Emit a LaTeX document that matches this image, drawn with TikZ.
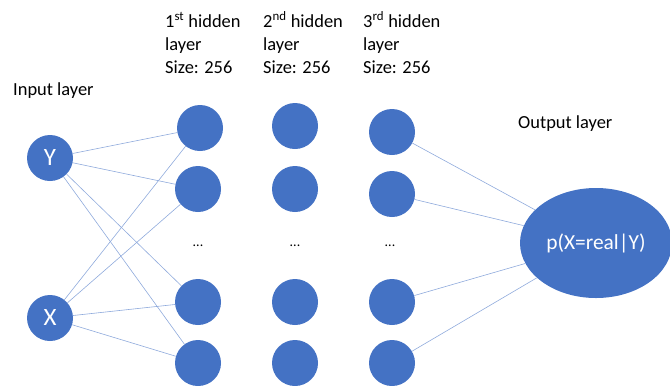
\documentclass[tikz,border=0pt]{standalone}
\usepackage{fontspec}
\setmainfont{Carlito}
\usetikzlibrary{shapes.geometric}
\definecolor{nodeblue}{HTML}{4472C4}
\definecolor{edgeblue}{HTML}{8FAADC}
\tikzset{
  neuron/.style={circle,fill=nodeblue,draw=none,minimum size=46bp,inner sep=0pt},
  inneuron/.style={neuron,text=white,font=\fontsize{25}{25}\selectfont},
  outneuron/.style={ellipse,fill=nodeblue,draw=none,minimum width=152bp,minimum height=110bp,inner sep=0pt,text=white,font=\fontsize{21.5}{21.5}\selectfont},
  lbl/.style={anchor=base west,inner sep=0pt,font=\fontsize{18.5}{18.5}\selectfont},
  dotlbl/.style={inner sep=0pt,font=\fontsize{14}{14}\selectfont},
  link/.style={draw=edgeblue,line width=0.6bp}
}
\begin{document}
\begin{tikzpicture}[x=1bp,y=-1bp]
\useasboundingbox (0,0) rectangle (670,385);
\clip (0,0) rectangle (670,385);
% labels
\node[lbl] (il) at (13,95) {Input layer};
\node[lbl] (l1a) at (165,27) {1\textsuperscript{st} hidden};
\node[lbl] (l1b) at (165,50) {layer};
\node[lbl] (l1c) at (165,73) {Size: 256};
\node[lbl] (l2a) at (263,27) {2\textsuperscript{nd} hidden};
\node[lbl] (l2b) at (263,50) {layer};
\node[lbl] (l2c) at (263,73) {Size: 256};
\node[lbl] (l3a) at (363,27) {3\textsuperscript{rd} hidden};
\node[lbl] (l3b) at (363,50) {layer};
\node[lbl] (l3c) at (363,73) {Size: 256};
\node[lbl] (ol) at (518,128) {Output layer};
% input
\node[inneuron] (Y) at (50,158) {Y};
\node[inneuron] (X) at (50,318) {X};
% hidden 1
\node[neuron] (a1) at (200,128) {};
\node[neuron] (a2) at (198,189) {};
\node[neuron] (a4) at (198,302) {};
\node[neuron] (a5) at (198,363) {};
% hidden 2
\node[neuron] (b1) at (295,126) {};
\node[neuron] (b2) at (295,189) {};
\node[neuron] (b4) at (295,302) {};
\node[neuron] (b5) at (295,363) {};
% hidden 3
\node[neuron] (c1) at (392,132) {};
\node[neuron] (c2) at (392,194) {};
\node[neuron] (c4) at (392,302) {};
\node[neuron] (c5) at (392,363) {};
% dots
\node[dotlbl] (ad) at (198,246) {...};
\node[dotlbl] (bd) at (295,246) {...};
\node[dotlbl] (cd) at (390,246) {...};
% output
\node[outneuron] (O) at (596,243) {p(X=real|Y)};
% links
\foreach \s in {Y,X}{
  \foreach \t in {a1,a2,a4,a5}{
    \draw[link] (\s) -- (\t);
  }
}
\foreach \t in {c1,c2,c4,c5}{
  \draw[link] (\t) -- (O);
}
\end{tikzpicture}
\end{document}
